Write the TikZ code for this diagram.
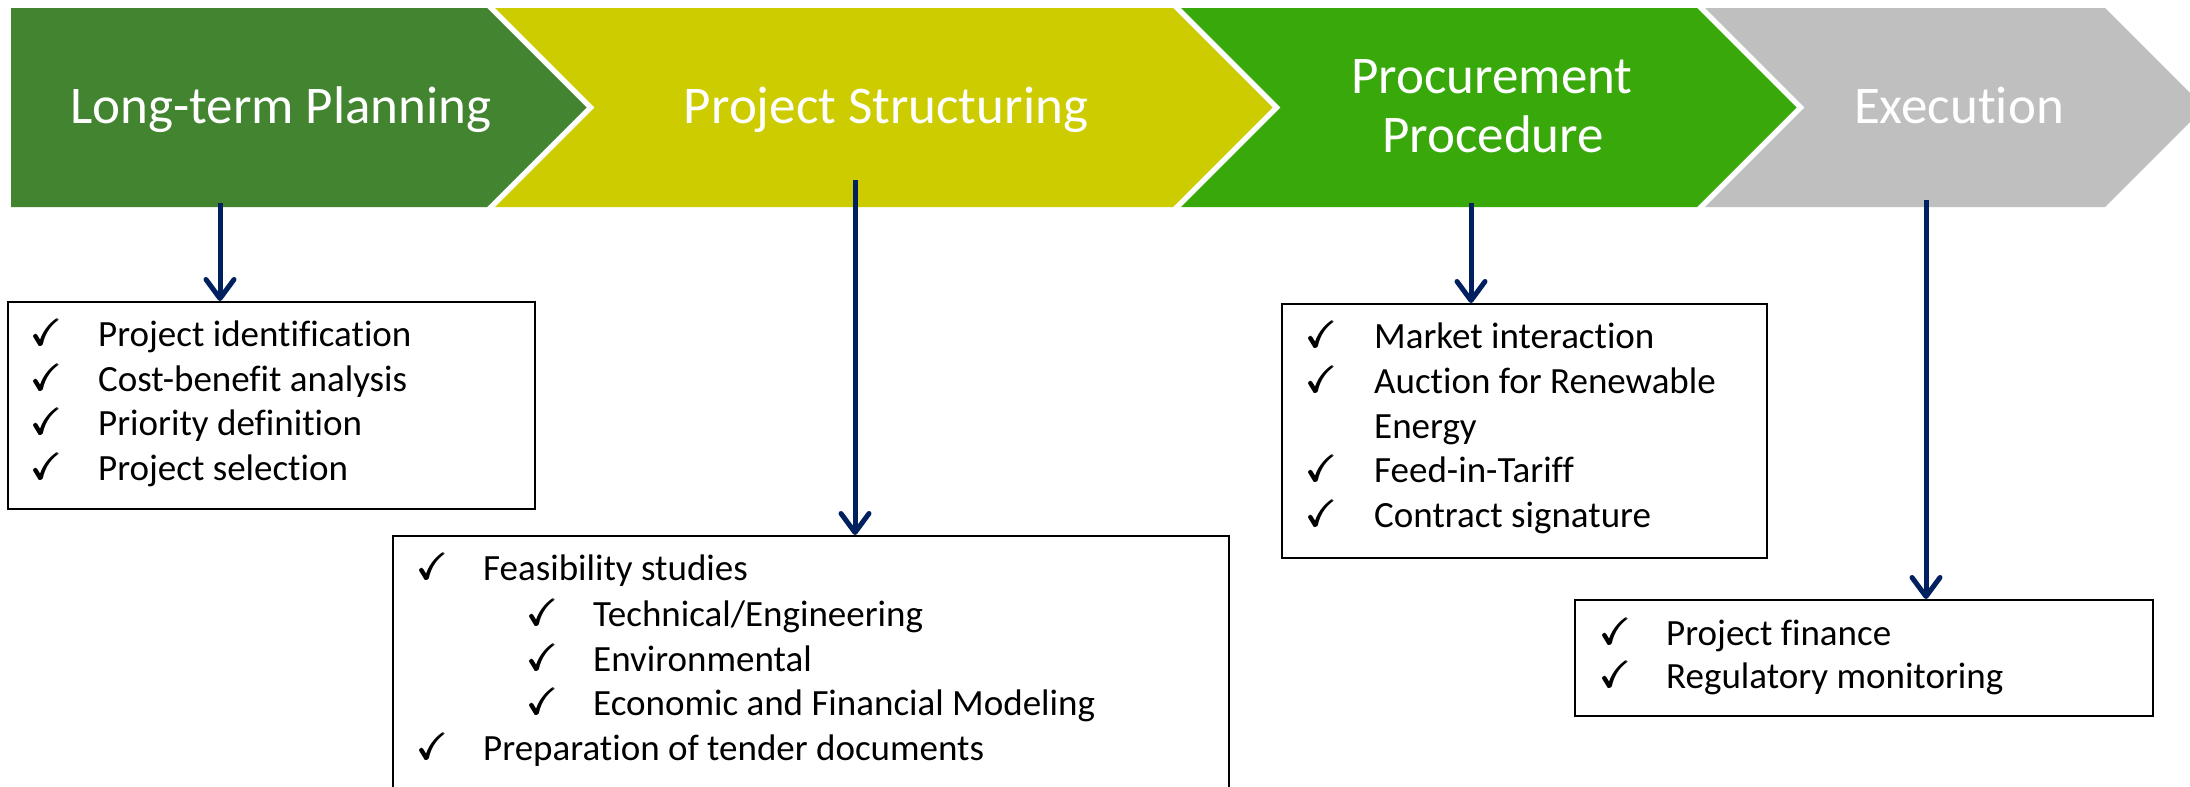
\documentclass[tikz,border=0pt]{standalone}
\usepackage{amsmath}
\usepackage{amssymb}
\usepackage{fontspec}
\setmainfont{Carlito}[Ligatures=NoCommon]
\usetikzlibrary{arrows.meta}
\definecolor{cLong}{RGB}{66,132,48}
\definecolor{cProj}{RGB}{204,204,0}
\definecolor{cProc}{RGB}{56,168,11}
\definecolor{cExec}{RGB}{191,191,191}
\definecolor{navy}{RGB}{0,32,96}
\newcommand\myheadfont{\fontsize{53}{59}\selectfont}
\newcommand\mylistfont{\fontsize{37}{45}\selectfont}
\newcommand\mychk{$\pmb{\checkmark}$}
\begin{document}
\begin{tikzpicture}[x=1pt,y=-1pt,
  phasetext/.style={anchor=base, inner sep=0pt, text=white, font=\myheadfont},
  listbox/.style={draw=black, line width=2pt, fill=white, anchor=north west, inner sep=0pt},
  item/.style={anchor=base west, inner sep=0pt, font=\mylistfont},
  chk/.style={anchor=base west, inner sep=0pt, font=\mylistfont},
  pointer/.style={draw=navy, line width=5pt, -{Straight Barb[length=19pt,width=28pt,round]}}]
\clip (0,0) rectangle (2190,787);
\fill[white] (0,0) rectangle (2190,787);
% chevrons
\fill[cLong] (11,8) -- (487,8) -- (586.5,107.5) -- (487,207) -- (11,207) -- cycle;
\fill[cProj] (495,8) -- (1173,8) -- (1272.5,107.5) -- (1173,207) -- (495,207) -- (594.5,107.5) -- cycle;
\fill[cProc] (1181,8) -- (1697,8) -- (1796.5,107.5) -- (1697,207) -- (1181,207) -- (1280.5,107.5) -- cycle;
\fill[cExec] (1705,8) -- (2105,8) -- (2204.5,107.5) -- (2105,207) -- (1705,207) -- (1804.5,107.5) -- cycle;
% headings
\node[phasetext] (h1) at (281,123) {Long-term Planning};
\node[phasetext] (h2) at (886,123) {Project Structuring};
\node[phasetext] (h3a) at (1492,93) {Procurement};
\node[phasetext] (h3b) at (1493,152) {Procedure};
\node[phasetext] (h4) at (1959,123) {Execution};
% arrow starts
\coordinate (a1) at (220,203);
\coordinate (a2) at (855,180);
\coordinate (a3) at (1471,203);
\coordinate (a4) at (1926,200);
% boxes
\node[listbox, minimum width=527pt, minimum height=207pt] (b1) at (7,301) {};
\node[listbox, minimum width=836pt, minimum height=300pt] (b2) at (392,535) {};
\node[listbox, minimum width=485pt, minimum height=254pt] (b3) at (1281,303) {};
\node[listbox, minimum width=578pt, minimum height=116pt] (b4) at (1574,599) {};
% arrows
\draw[pointer] (a1) -- (a1 |- b1.north);
\draw[pointer] (a2) -- (a2 |- b2.north);
\draw[pointer] (a3) -- (a3 |- b3.north);
\draw[pointer] (a4) -- (a4 |- b4.north);
% box 1
\node[chk] (c11) at (31,345) {\mychk};
\node[item] (t11) at (98,346) {Project identification};
\node[chk] (c12) at (31,390) {\mychk};
\node[item] (t12) at (98,391) {Cost-benefit analysis};
\node[chk] (c13) at (31,434) {\mychk};
\node[item] (t13) at (98,435) {Priority definition};
\node[chk] (c14) at (31,479) {\mychk};
\node[item] (t14) at (98,480) {Project selection};
% box 2
\node[chk] (c21) at (417,579) {\mychk};
\node[item] (t21) at (483,580) {Feasibility studies};
\node[chk] (c22) at (527,625) {\mychk};
\node[item] (t22) at (593,626) {Technical/Engineering};
\node[chk] (c23) at (527,670) {\mychk};
\node[item] (t23) at (593,671) {Environmental};
\node[chk] (c24) at (527,714) {\mychk};
\node[item] (t24) at (593,715) {Economic and Financial Modeling};
\node[chk] (c25) at (417,759) {\mychk};
\node[item] (t25) at (483,760) {Preparation of tender documents};
% box 3
\node[chk] (c31) at (1306,347) {\mychk};
\node[item] (t31) at (1374,348) {Market interaction};
\node[chk] (c32) at (1306,392) {\mychk};
\node[item] (t32) at (1374,393) {Auction for Renewable};
\node[item] (t33) at (1374,438) {Energy};
\node[chk] (c34) at (1306,481) {\mychk};
\node[item] (t34) at (1374,482) {Feed-in-Tariff};
\node[chk] (c35) at (1306,526) {\mychk};
\node[item] (t35) at (1374,527) {Contract signature};
% box 4
\node[chk] (c41) at (1600,644) {\mychk};
\node[item] (t41) at (1666,645) {Project finance};
\node[chk] (c42) at (1600,687) {\mychk};
\node[item] (t42) at (1666,688) {Regulatory monitoring};
\end{tikzpicture}
\end{document}
